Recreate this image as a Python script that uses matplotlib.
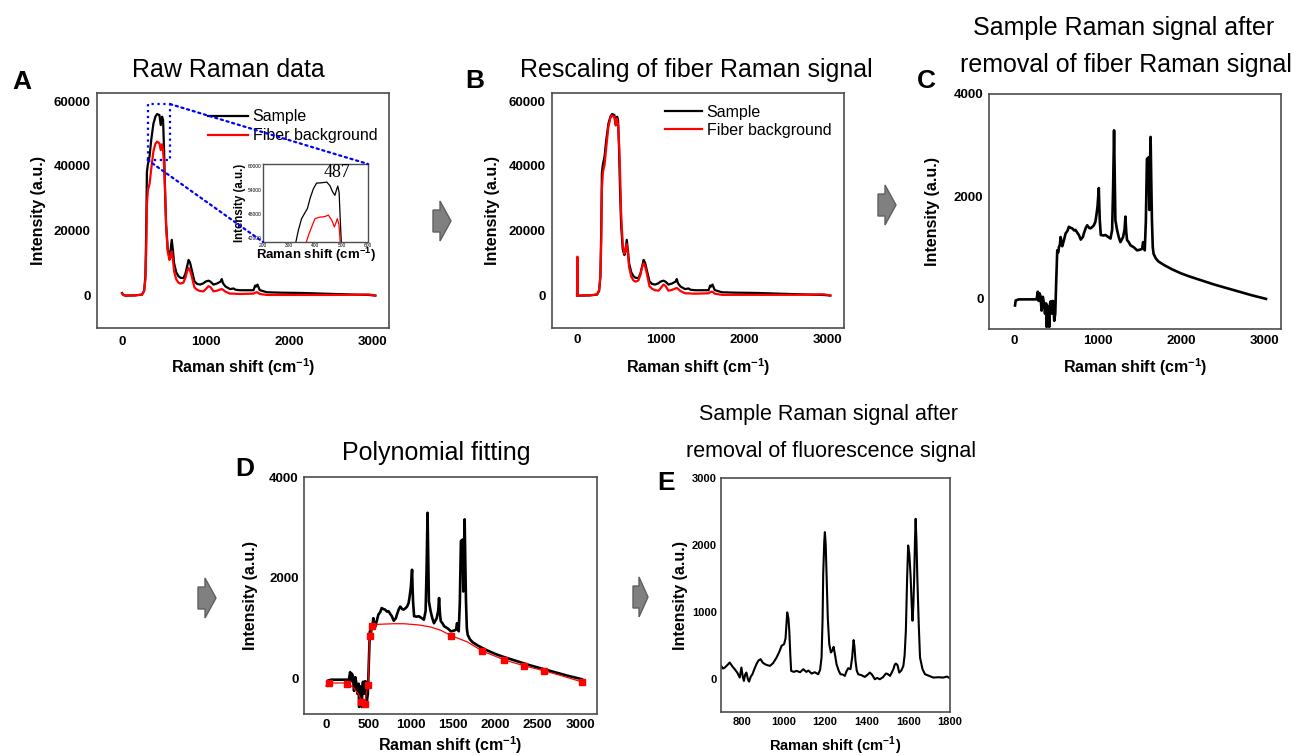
import matplotlib
matplotlib.use("Agg")
import matplotlib.pyplot as plt
from matplotlib.patches import Polygon, Rectangle, ConnectionPatch
from matplotlib import font_manager

# ---------------- data ----------------
# Panel A: raw spectra (x, sample, fiber)
raw_shift = [0, 15, 40, 150, 240, 265, 280, 290, 298, 310, 330, 350, 376, 400, 420, 448, 464, 480, 492,
             504, 516, 528, 548, 568, 580, 596, 610, 624, 650, 676, 700, 736, 760, 780, 798, 815, 835,
             868, 900, 936, 976, 1000, 1036, 1060, 1096, 1136, 1180, 1196, 1210, 1240, 1296, 1336, 1360,
             1416, 1576, 1596, 1610, 1624, 1650, 1736, 1900, 2136, 2536, 2800, 2950, 3000, 3036]
raw_sample = [800, 200, 0, 50, 300, 1500, 6000, 20000, 38000, 40500, 43000, 48000, 53000, 55200, 56000, 55700, 52600, 55200, 54200,
              44900, 32000, 22000, 14200, 12500, 13500, 17200, 14000, 10000, 7200, 6000, 5500, 5400, 6800, 9000, 11000, 10200, 8000,
              4400, 3600, 3400, 3800, 4300, 4600, 4300, 3400, 3700, 4300, 5100, 3800, 2800, 2000, 2200, 1800,
              1650, 1650, 3100, 2800, 3400, 1700, 1030, 900, 820, 500, 300, 200, 100, 0]
raw_fiber = [700, 200, 0, 50, 300, 1500, 5000, 14000, 28000, 32500, 34500, 39000, 44500, 46800, 47500, 47000, 44900, 46700, 44900,
             40000, 32600, 22000, 13500, 11000, 11800, 13600, 11000, 7500, 5000, 4000, 3700, 4000, 5500, 7500, 8500, 7800, 6000,
             2500, 1800, 1400, 1300, 1900, 2900, 2600, 1300, 1500, 1900, 2000, 1800, 1200, 600, 600, 550,
             500, 600, 900, 1000, 1000, 500, 200, 200, 200, 200, 250, 350, 200, 0]

# Inset of panel A (zoom on the main peak)
inset_sample_pts = [(322, 40000), (335, 44000), (347, 46800), (360, 48300), (369, 49300), (380, 52000),
                    (392, 54250), (404, 55650), (420, 55700), (443, 55900), (455, 55000), (465, 53500),
                    (474, 52600), (480, 54000), (485, 54900), (490, 53300), (494, 47000), (499, 40000)]
inset_fiber_pts = [(360, 40000), (375, 43000), (390, 45500), (398, 46800), (417, 47200), (435, 47300),
                   (449, 47700), (462, 46400), (472, 44750), (478, 45800), (483, 46800), (489, 45500),
                   (492, 43000), (495, 40000)]

# Panel B: rescaled spectra
resc_shift = [0, 5, 10, 20, 40, 150, 240, 265, 280, 290, 298, 310, 330, 350, 376, 400, 420, 448, 464, 480, 492,
              504, 516, 528, 548, 568, 580, 596, 610, 624, 650, 676, 700, 736, 760, 780, 798, 815, 835,
              868, 900, 936, 976, 1000, 1036, 1060, 1096, 1136, 1180, 1196, 1210, 1240, 1296, 1336, 1360,
              1416, 1576, 1596, 1610, 1624, 1650, 1736, 1900, 2136, 2536, 2800, 2950, 3000, 3036]
resc_sample = [0, 11000, 300, 0, 0, 50, 300, 1500, 6000, 20000, 38000, 40500, 43000, 48000, 53000, 55200, 56000, 55700, 52600, 55200, 54200,
               44900, 32000, 22000, 14200, 12500, 13500, 17200, 14000, 10000, 7200, 6000, 5500, 5400, 6800, 9000, 11000, 10200, 8000,
               4400, 3600, 3400, 3800, 4300, 4600, 4300, 3400, 3700, 4300, 5100, 3800, 2800, 2000, 2200, 1800,
               1650, 1650, 3100, 2800, 3400, 1700, 1030, 900, 820, 500, 300, 200, 100, 0]
resc_fiber = [0, 12000, 300, 0, 0, 60, 350, 1750, 5850, 16400, 32800, 38000, 40400, 45600, 52100, 54800, 55600, 55000, 52500, 54600, 52500,
              46800, 38100, 25700, 15800, 12900, 13800, 15900, 12900, 8800, 5850, 4700, 4300, 4700, 6400, 8800, 9950, 9100, 7000,
              2900, 2100, 1640, 1520, 2200, 3400, 3000, 1500, 1750, 2200, 2340, 2100, 1400, 700, 700, 640,
              590, 700, 1050, 1170, 1170, 590, 230, 230, 230, 230, 290, 410, 230, 0]

# Panels C and D: sample signal after removal of fiber signal
clean_pts = [(12, -140), (20, -40), (60, -20), (150, -20), (270, -20), (285, 130), (295, -50), (305, 100),
             (315, 60), (331, -240), (345, 30), (360, -100), (371, -300), (385, -100), (391, -560), (405, -150),
             (411, -200), (422, -560), (432, -100), (438, -60), (450, -300), (462, -50), (470, -60), (482, -440),
             (494, -300), (506, 350), (518, 940), (530, 900), (538, 1000), (550, 1050), (558, 1200), (570, 1100),
             (578, 1020), (600, 1150), (618, 1270), (640, 1320), (657, 1400), (680, 1380), (697, 1370), (720, 1330),
             (737, 1340), (760, 1280), (777, 1240), (800, 1150), (809, 1170), (825, 1200), (837, 1270), (860, 1380),
             (877, 1430), (900, 1380), (917, 1370), (940, 1400), (957, 1430), (975, 1500), (985, 1600), (1001, 1800),
             (1016, 2160), (1022, 1800), (1028, 1530), (1040, 1240), (1070, 1230), (1096, 1240), (1130, 1200),
             (1156, 1170), (1176, 1340), (1188, 2200), (1199, 3290), (1207, 2400), (1215, 1530), (1235, 1340),
             (1255, 1200), (1275, 1100), (1307, 1200), (1325, 1350), (1335, 1600), (1345, 1300), (1355, 1140),
             (1375, 1100), (1395, 1040), (1435, 1000), (1475, 940), (1505, 950), (1535, 970), (1547, 1100),
             (1567, 940), (1580, 1500), (1593, 2730), (1613, 2760), (1621, 1730), (1630, 2600), (1637, 3160),
             (1645, 2300), (1653, 1530), (1663, 1000), (1673, 870), (1700, 780), (1733, 720), (1800, 650),
             (1892, 570), (2000, 490), (2100, 430), (2250, 350), (2400, 270), (2550, 200), (2700, 130),
             (2850, 60), (3020, -10)]

# Panel D: polynomial fit (line) and anchor points (markers)
fit_line_pts = [(39, -85), (150, -85), (252, -85), (330, -185), (385, -315), (420, -445), (458, -480),
                (497, -85), (515, 843), (548, 1020), (610, 1078), (800, 1090), (922, 1090), (1100, 1065),
                (1236, 1025), (1355, 960), (1476, 855), (1669, 730), (1846, 549), (2106, 373), (2342, 255),
                (2575, 157), (2800, 50), (3024, -65)]
fit_anchor_pts = [(39, -85), (244, -100), (415, -460), (455, -510), (497, -118), (515, 843), (545, 1040),
                  (1476, 855), (1846, 549), (2106, 373), (2342, 255), (2575, 157), (3024, -65)]

# Panel E: after removal of fluorescence
final_pts = [(700, 190), (710, 150), (718, 165), (730, 200), (742, 240), (755, 180), (766, 140), (778, 90),
             (790, 15), (798, 165), (805, 20), (810, -35), (816, 60), (822, 90), (830, -20), (835, -45),
             (843, 30), (851, 65), (860, 140), (870, 215), (880, 270), (890, 290), (900, 240), (911, 215),
             (923, 200), (935, 190), (950, 230), (967, 315), (980, 400), (991, 490), (1003, 515), (1010, 600),
             (1018, 990), (1024, 900), (1028, 715), (1033, 350), (1037, 115), (1050, 100), (1063, 115),
             (1080, 95), (1095, 140), (1110, 100), (1120, 120), (1135, 75), (1150, 95), (1167, 65), (1176, 130),
             (1183, 315), (1188, 900), (1191, 1565), (1196, 2050), (1199, 2190), (1203, 2000), (1207, 1565),
             (1213, 900), (1220, 515), (1228, 390), (1235, 420), (1241, 475), (1248, 350), (1255, 215),
             (1265, 120), (1274, 65), (1285, 60), (1295, 40), (1303, 110), (1311, 155), (1322, 140), (1330, 315),
             (1334, 470), (1337, 575), (1341, 480), (1346, 265), (1352, 120), (1359, 65), (1375, 50), (1391, 25),
             (1405, 60), (1415, 90), (1425, 60), (1439, -10), (1450, 10), (1463, -10), (1478, 20), (1492, 75),
             (1500, 70), (1512, 40), (1528, 140), (1535, 210), (1540, 225), (1548, 200), (1556, 90), (1566, 120),
             (1576, 190), (1582, 350), (1588, 715), (1594, 1500), (1599, 1990), (1605, 1850), (1611, 1515),
             (1616, 1100), (1620, 865), (1624, 1100), (1628, 1515), (1632, 2100), (1635, 2390), (1639, 2050),
             (1643, 1515), (1650, 800), (1656, 315), (1668, 140), (1680, 65), (1700, 40), (1720, 15), (1745, 20),
             (1768, 15), (1785, 30), (1800, 5)]

legend_labels = ["Sample", "Fiber background"]
titles = {"A": "Raw Raman data",
          "B": "Rescaling of fiber Raman signal",
          "C": "Sample Raman signal after\nremoval of fiber Raman signal",
          "D": "Polynomial fitting",
          "E": "Sample Raman signal after\nremoval of fluorescence signal"}
xticks_full = [0, 1000, 2000, 3000]
yticks_big = [0, 20000, 40000, 60000]
yticks_c = [0, 2000, 4000]
xticks_d = [0, 500, 1000, 1500, 2000, 2500, 3000]
xticks_e = [800, 1000, 1200, 1400, 1600, 1800]
yticks_e = [0, 1000, 2000, 3000]
inset_xticks = [200, 300, 400, 500, 600]
inset_yticks = [42000, 48000, 54000, 60000]
peak_label = "487"

# ---------------- fonts ----------------
names = {f.name for f in font_manager.fontManager.ttflist}
SANS = "Liberation Sans" if "Liberation Sans" in names else "DejaVu Sans"
NARROW = "Liberation Sans Narrow" if "Liberation Sans Narrow" in names else SANS
HAS_NARROW = NARROW != SANS
SERIF = "Liberation Serif" if "Liberation Serif" in names else "DejaVu Serif"
plt.rcParams["font.family"] = [SANS, "DejaVu Sans"]
plt.rcParams["mathtext.fontset"] = "custom"
plt.rcParams["mathtext.rm"] = SANS
plt.rcParams["mathtext.bf"] = SANS + ":bold"

XLABEL = r"Raman shift (cm$^{\mathbf{-1}}$)"
YLABEL = "Intensity (a.u.)"

W, H = 1299, 756
fig = plt.figure(figsize=(W / 100, H / 100), dpi=100)


def px_rect(l, t, r, b):
    return [l / W, 1 - b / H, (r - l) / W, (b - t) / H]


def setup(ax, box, xlim, ylim, xticks, yticks, fs, xpad, ypad, family, ylab_off, xlab_off, lab_fs=11.5):
    l, t, r, b = box
    ax.set_xlim(*xlim)
    ax.set_ylim(*ylim)
    ax.set_xticks(xticks, labels=[str(v) for v in xticks], fontweight="bold", family=family, fontsize=fs)
    ax.set_yticks(yticks, labels=[str(v) for v in yticks], fontweight="bold", family=family, fontsize=fs)
    ax.tick_params(axis="x", length=0, pad=xpad)
    ax.tick_params(axis="y", length=0, pad=ypad)
    for s in ax.spines.values():
        s.set_color("#4d4d4d")
        s.set_linewidth(1.2)
    ax.set_xlabel(XLABEL, fontsize=lab_fs, fontweight="bold", family=family, va="center")
    ax.xaxis.set_label_coords(0.5, -xlab_off / (b - t))
    ax.set_ylabel(YLABEL, fontsize=11.5, fontweight="bold", family=SANS, va="center")
    ax.yaxis.set_label_coords(-ylab_off / (r - l), 0.5)


def ftext(px, py, s, **kw):
    fig.text(px / W, 1 - py / H, s, **kw)


# ---------------- Panel A ----------------
boxA = (97, 93, 389, 328)
axA = fig.add_axes(px_rect(*boxA))
axA.plot(raw_shift, raw_sample, color="black", lw=1.6, label=legend_labels[0])
axA.plot(raw_shift, raw_fiber, color="red", lw=1.6, label=legend_labels[1])
setup(axA, boxA, (-300, 3200), (-10000, 62500), xticks_full, yticks_big, 9.5, 6, 4.5, SANS, 59, 39)
axA.legend(loc="upper left", bbox_to_anchor=(0.38, 0.93), frameon=False, fontsize=11.5,
           handlelength=2.5, handletextpad=0.3, labelspacing=0.25, borderpad=0, borderaxespad=0)
axA.add_patch(Rectangle((306, 41850), 270, 17230, fill=False, ec="blue", ls=":", lw=1.6))

boxI = (263, 164, 368, 242)
axI = fig.add_axes(px_rect(*boxI))
isx, isy = zip(*inset_sample_pts)
ifx, ify = zip(*inset_fiber_pts)
axI.plot(isx, isy, color="black", lw=0.9)
axI.plot(ifx, ify, color="red", lw=0.9)
axI.set_xlim(200, 600)
axI.set_ylim(41000, 60400)
axI.set_xticks(inset_xticks, labels=[str(v) for v in inset_xticks], fontsize=3.5)
axI.set_yticks(inset_yticks, labels=[str(v) for v in inset_yticks], fontsize=3.5)
axI.tick_params(length=0, pad=1)
for s in axI.spines.values():
    s.set_color("#4d4d4d")
    s.set_linewidth(1.0)
axI.set_xlabel(XLABEL, fontsize=9.5, fontweight="bold", va="center")
axI.xaxis.set_label_coords(0.5, -13 / 78)
axI.set_ylabel(YLABEL, fontsize=8.3, fontweight="bold", va="center")
axI.yaxis.set_label_coords(-23 / 105, 0.5)
axI.text(482, 58200, peak_label, family=SERIF, fontsize=13, ha="center", va="center")

for pa, pb in [((576, 59080), (1, 1)), ((306, 41850), (0, 0))]:
    con = ConnectionPatch(xyA=pa, coordsA="data", axesA=axA, xyB=pb, coordsB="axes fraction", axesB=axI,
                          color="blue", ls=":", lw=1.6)
    fig.add_artist(con)

# ---------------- Panel B ----------------
boxB = (552, 93, 844, 328)
axB = fig.add_axes(px_rect(*boxB))
axB.plot(resc_shift, resc_sample, color="black", lw=1.6, label=legend_labels[0])
axB.plot(resc_shift, resc_fiber, color="red", lw=1.6, label=legend_labels[1])
setup(axB, boxB, (-300, 3200), (-10000, 62500), xticks_full, yticks_big, 9.5, 4, 4.5, SANS, 59, 39)
axB.legend(loc="upper left", bbox_to_anchor=(0.387, 0.95), frameon=False, fontsize=11.5,
           handlelength=2.3, handletextpad=0.3, labelspacing=0.2, borderpad=0, borderaxespad=0)

# ---------------- Panel C ----------------
cx, cy = zip(*clean_pts)
boxC = (989, 94, 1281, 329)
axC = fig.add_axes(px_rect(*boxC))
axC.plot(cx, cy, color="black", lw=1.9)
setup(axC, boxC, (-300, 3200), (-600, 4000), xticks_full, yticks_c, 9.5, 4, 4, SANS, 56, 38)

# ---------------- Panel D ----------------
boxD = (304, 477, 597, 714)
axD = fig.add_axes(px_rect(*boxD))
axD.plot(cx, cy, color="black", lw=1.9)
flx, fly = zip(*fit_line_pts)
fax, fay = zip(*fit_anchor_pts)
axD.plot(flx, fly, color="red", lw=0.9)
axD.plot(fax, fay, ls="none", marker="s", ms=5, color="red")
setup(axD, boxD, (-260, 3200), (-700, 4000), xticks_d, yticks_c, 9.5, 3.5, 3.8, SANS, 54, 31)

# ---------------- Panel E ----------------
ex, ey = zip(*final_pts)
boxE = (721, 478, 950, 712)
axE = fig.add_axes(px_rect(*boxE))
axE.plot(ex, ey, color="black", lw=1.5)
setup(axE, boxE, (700, 1800), (-500, 3000), xticks_e, yticks_e, 8.5 if HAS_NARROW else 8, 3.5, 3, NARROW,
      40, 34, lab_fs=11.5 if HAS_NARROW else 10.5)

# ---------------- titles and panel letters ----------------
ftext(228.5, 77, titles["A"], fontsize=18, ha="center", va="baseline")
ftext(696, 77, titles["B"], fontsize=18, ha="center", va="baseline")
c1, c2 = titles["C"].split("\n")
ftext(1124, 35, c1, fontsize=18, ha="center", va="baseline")
ftext(1126, 71.7, c2, fontsize=18, ha="center", va="baseline")
ftext(436, 460, titles["D"], fontsize=18, ha="center", va="baseline")
e1, e2 = titles["E"].split("\n")
efs = 18 if HAS_NARROW else 15.5
ftext(828.5, 420, e1, fontsize=efs, ha="center", va="baseline", family=[NARROW, SANS])
ftext(831, 456.7, e2, fontsize=efs, ha="center", va="baseline", family=[NARROW, SANS])

for letter, (lx, ly), fs in [("A", (12.7, 89), 19), ("B", (465, 88), 19), ("C", (917, 88), 19),
                             ("D", (235, 476), 19), ("E", (657, 490), 20 if HAS_NARROW else 19)]:
    ftext(lx, ly, letter, fontsize=fs, fontweight="bold", ha="left", va="baseline",
          family=[NARROW if letter == "E" else SANS, SANS])


# ---------------- gray process arrows ----------------
def block_arrow(x0, yc, L=18, lb=7, hb=11, hh=20):
    pts = [(x0, yc - hb), (x0 + lb, yc - hb), (x0 + lb, yc - hh), (x0 + L, yc),
           (x0 + lb, yc + hh), (x0 + lb, yc + hb), (x0, yc + hb)]
    frac = [(x / W, 1 - y / H) for x, y in pts]
    fig.add_artist(Polygon(frac, closed=True, transform=fig.transFigure, fc="#808080", ec="#5f5f5f", lw=1))


block_arrow(433, 221)
block_arrow(878, 205)
block_arrow(198, 598)
block_arrow(633, 597, L=15, lb=6)

fig.savefig("out.png", dpi=100)
